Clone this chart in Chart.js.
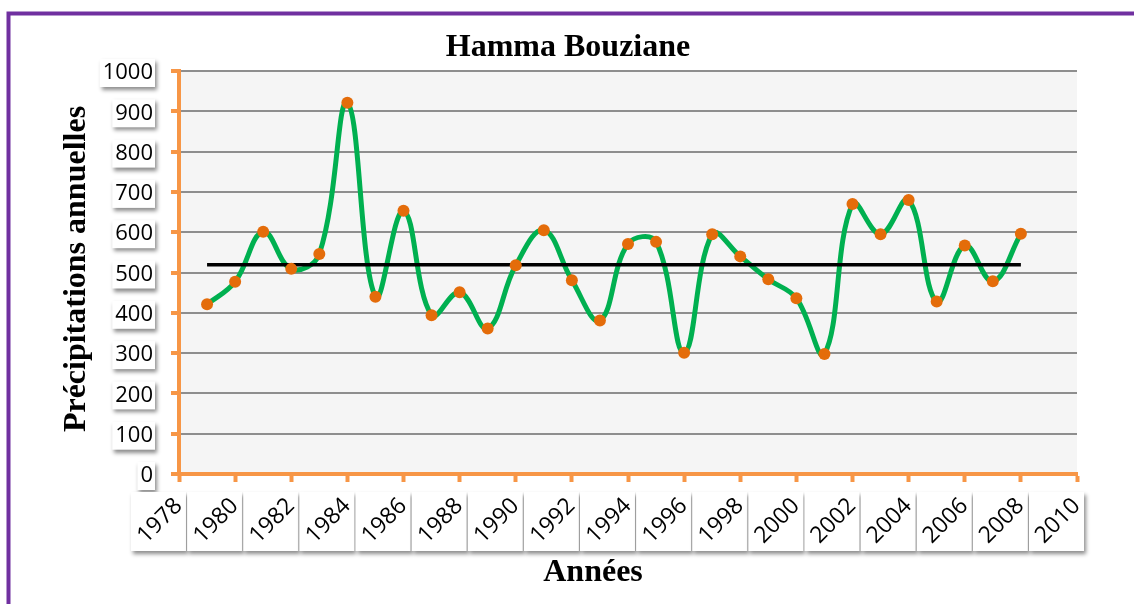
<!DOCTYPE html>
<html>
<head>
<meta charset="utf-8">
<script src="https://cdn.jsdelivr.net/npm/chart.js@4.4.1/dist/chart.umd.min.js"></script>
<style>
  html, body { margin: 0; padding: 0; background: #fff; overflow: hidden; }
  #wrap { width: 1134px; height: 604px; position: relative; }
</style>
</head>
<body>
<div id="wrap"><canvas id="chart"></canvas></div>
<script>
const years = [1979, 1980, 1981, 1982, 1983, 1984, 1985, 1986, 1987, 1988,
  1989, 1990, 1991, 1992, 1993, 1994, 1995, 1996, 1997, 1998,
  1999, 2000, 2001, 2002, 2003, 2004, 2005, 2006, 2007, 2008]
const precipitation = [421, 477, 601, 509, 546, 921, 440, 653, 394, 451,
  361, 518, 605, 481, 381, 571, 576, 301, 595, 540,
  483, 436, 298, 670, 595, 680, 428, 567, 478, 596]
const meanPrecip = 519
const yTicks = [0, 100, 200, 300, 400, 500, 600, 700, 800, 900, 1000]
const xTicks = [1978, 1980, 1982, 1984, 1986, 1988, 1990, 1992, 1994,
  1996, 1998, 2000, 2002, 2004, 2006, 2008, 2010]

const chartTitle = 'Hamma Bouziane'
const yTitle = 'Précipitations annuelles'
const xTitle = 'Années'

const ORANGE = '#F79646'
const GREEN = '#00B050'
const DOT = '#E46C0A'
const PURPLE = '#7030A0'
const LABEL_FONT = '22px "Open Sans"'
const XLABEL_FONT = '23px "Open Sans"'
const TITLE_FONT = 'bold 32px "Liberation Serif"'

const points = years.map((y, i) => ({ x: y, y: precipitation[i] }))
const meanLine = [
  { x: years[0], y: meanPrecip },
  { x: years[years.length - 1], y: meanPrecip },
]

function shadowBox(ctx, x, y, w, h) {
  ctx.save()
  ctx.shadowColor = 'rgba(0,0,0,0.45)'
  ctx.shadowBlur = 4
  ctx.shadowOffsetX = 2
  ctx.shadowOffsetY = 3
  ctx.fillStyle = '#fff'
  ctx.fillRect(x, y, w, h)
  ctx.restore()
}

const decor = {
  id: 'decor',
  beforeDraw(chart) {
    const { ctx, chartArea: a } = chart
    ctx.save()
    ctx.fillStyle = '#fff'
    ctx.fillRect(0, 0, chart.width, chart.height)
    ctx.fillStyle = '#F5F5F5'
    ctx.fillRect(a.left, a.top, a.right - a.left, a.bottom - a.top)
    // purple frame
    ctx.strokeStyle = PURPLE
    ctx.lineWidth = 4
    ctx.beginPath()
    ctx.moveTo(8.5, chart.height + 5)
    ctx.lineTo(8.5, 13.5)
    ctx.lineTo(chart.width + 5, 13.5)
    ctx.stroke()
    ctx.restore()
  },
  afterDraw(chart) {
    const { ctx } = chart
    const xs = chart.scales.x
    const ys = chart.scales.y
    ctx.save()
    ctx.font = LABEL_FONT
    ctx.fillStyle = '#000'

    // y tick labels in shadowed boxes
    yTicks.forEach(v => {
      const py = ys.getPixelForValue(v)
      const t = String(v)
      const w = ctx.measureText(t).width
      shadowBox(ctx, 153 - w - 3, py - 12, w + 5, 28)
      ctx.textAlign = 'right'
      ctx.textBaseline = 'middle'
      ctx.fillText(t, 153, py + 2)
    })

    // x tick labels, rotated
    ctx.font = XLABEL_FONT
    xTicks.forEach(v => {
      const px = xs.getPixelForValue(v)
      shadowBox(ctx, px - 48, 492, 55, 59)
      ctx.save()
      ctx.translate(px - 19, 521)
      ctx.rotate(-Math.PI / 4)
      ctx.textAlign = 'center'
      ctx.textBaseline = 'middle'
      ctx.fillText(String(v), 0, 0)
      ctx.restore()
    })

    // titles
    ctx.font = TITLE_FONT
    ctx.textAlign = 'center'
    ctx.textBaseline = 'alphabetic'
    ctx.fillText(chartTitle, 568, 56)
    ctx.fillText(xTitle, 593, 581)
    ctx.save()
    ctx.translate(85, 269)
    ctx.rotate(-Math.PI / 2)
    ctx.fillText(yTitle, 0, 0)
    ctx.restore()
    ctx.restore()
  },
}

new Chart(document.getElementById('chart'), {
  type: 'line',
  data: {
    datasets: [
      {
        label: 'Précipitations',
        data: points,
        borderColor: GREEN,
        borderWidth: 5,
        tension: 0.4,
        pointRadius: 0,
        fill: false,
        order: 3,
      },
      {
        label: 'Moyenne',
        data: meanLine,
        borderColor: '#000',
        borderWidth: 3.5,
        tension: 0,
        pointRadius: 0,
        fill: false,
        order: 2,
      },
      {
        label: 'Points',
        data: points,
        showLine: false,
        pointRadius: 6,
        pointBackgroundColor: DOT,
        pointBorderColor: DOT,
        pointBorderWidth: 0,
        order: 1,
      },
    ],
  },
  options: {
    responsive: true,
    maintainAspectRatio: false,
    animation: false,
    layout: { padding: { left: 167, right: 57, top: 71, bottom: 118 } },
    plugins: {
      legend: { display: false },
      tooltip: { enabled: false },
      title: { display: false },
    },
    scales: {
      x: {
        type: 'linear',
        min: 1978,
        max: 2010,
        ticks: { stepSize: 2, display: false },
        grid: {
          drawOnChartArea: false,
          drawTicks: true,
          tickLength: 8,
          tickWidth: 4,
          tickColor: ORANGE,
        },
        border: { display: true, color: ORANGE, width: 4 },
        afterFit: s => { s.height = 12 },
      },
      y: {
        min: 0,
        max: 1000,
        ticks: { stepSize: 100, display: false },
        grid: {
          color: '#8E8E8E',
          lineWidth: 2,
          drawTicks: true,
          tickLength: 8,
          tickWidth: 4,
          tickColor: ORANGE,
        },
        border: { display: true, color: ORANGE, width: 4 },
        afterFit: s => { s.width = 12 },
      },
    },
  },
  plugins: [decor],
})
</script>
</body>
</html>
